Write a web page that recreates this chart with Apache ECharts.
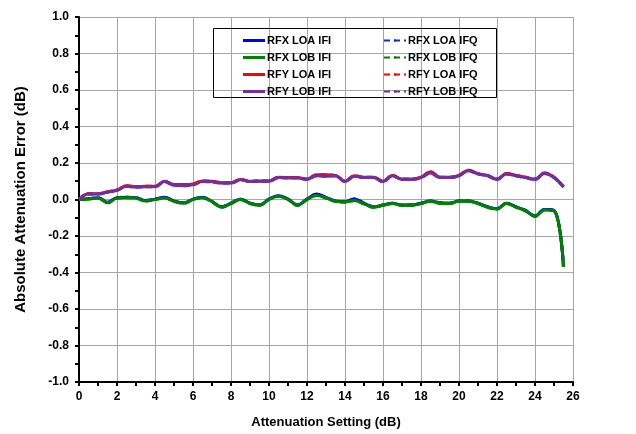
<!DOCTYPE html>
<html><head><meta charset="utf-8">
<script src="https://cdn.jsdelivr.net/npm/echarts@6/dist/echarts.min.js"></script>
<style>html,body{margin:0;padding:0;background:#fff}#c{width:636px;height:434px}</style>
</head><body><div id="c"></div>
<script>
var atten = [0,0.5,1,1.5,2,2.5,3,3.5,4,4.5,5,5.5,6,6.5,7,7.5,8,8.5,9,9.5,10,10.5,11,11.5,12,12.5,13,13.5,14,14.5,15,15.5,16,16.5,17,17.5,18,18.5,19,19.5,20,20.5,21,21.5,22,22.5,23,23.5,24,24.5,25,25.5];
var rfxLoaIfi = [0,0.005,0.01,-0.015,0.01,0.012,0.01,-0.005,0.002,0.012,-0.008,-0.018,0.002,0.012,-0.01,-0.04,-0.02,0.002,-0.02,-0.03,0.002,0.02,0.002,-0.03,0.002,0.03,0.012,-0.008,-0.012,0.002,-0.02,-0.04,-0.03,-0.02,-0.03,-0.03,-0.02,-0.008,-0.018,-0.02,-0.008,-0.008,-0.02,-0.04,-0.05,-0.02,-0.04,-0.06,-0.09,-0.055,-0.06,-0.37];
var rfxLoaIfq = [0,0.004,0.01,-0.016,0.01,0.012,0.01,-0.006,0.002,0.01,-0.008,-0.02,0.002,0.01,-0.012,-0.04,-0.02,0.002,-0.02,-0.03,0.002,0.018,0.002,-0.03,0.002,0.028,0.01,-0.008,-0.012,0.004,-0.02,-0.04,-0.03,-0.02,-0.03,-0.03,-0.02,-0.008,-0.018,-0.02,-0.008,-0.008,-0.02,-0.04,-0.05,-0.02,-0.04,-0.06,-0.09,-0.055,-0.06,-0.37];
var rfxLobIfi = [0,0.002,0.008,-0.018,0.008,0.01,0.008,-0.008,0,0.008,-0.01,-0.02,0,0.01,-0.012,-0.042,-0.022,0,-0.022,-0.032,0,0.018,0,-0.032,0,0.022,0.008,-0.01,-0.014,-0.006,-0.024,-0.042,-0.032,-0.022,-0.032,-0.032,-0.022,-0.01,-0.02,-0.022,-0.01,-0.01,-0.022,-0.042,-0.052,-0.022,-0.042,-0.062,-0.092,-0.058,-0.062,-0.37];
var rfxLobIfq = [0,0.002,0.008,-0.018,0.008,0.01,0.008,-0.008,0,0.008,-0.01,-0.02,0,0.01,-0.012,-0.042,-0.022,0,-0.022,-0.032,0,0.018,0,-0.032,0,0.022,0.008,-0.01,-0.014,-0.006,-0.024,-0.042,-0.032,-0.022,-0.032,-0.032,-0.022,-0.01,-0.02,-0.022,-0.01,-0.01,-0.022,-0.042,-0.052,-0.022,-0.042,-0.062,-0.092,-0.058,-0.062,-0.37];
var rfyLoaIfi = [0,0.032,0.032,0.042,0.052,0.075,0.07,0.072,0.072,0.1,0.082,0.082,0.085,0.102,0.1,0.092,0.092,0.11,0.1,0.102,0.102,0.122,0.12,0.12,0.112,0.135,0.135,0.132,0.1,0.13,0.122,0.122,0.1,0.132,0.112,0.112,0.122,0.152,0.122,0.122,0.132,0.16,0.142,0.132,0.112,0.142,0.132,0.122,0.112,0.145,0.122,0.07];
var rfyLoaIfq = [0,0.032,0.032,0.042,0.052,0.075,0.07,0.072,0.072,0.1,0.082,0.082,0.085,0.102,0.1,0.092,0.092,0.11,0.1,0.102,0.102,0.122,0.12,0.12,0.112,0.135,0.135,0.132,0.1,0.13,0.122,0.122,0.1,0.132,0.112,0.112,0.122,0.152,0.122,0.122,0.132,0.16,0.142,0.132,0.112,0.142,0.132,0.122,0.112,0.145,0.122,0.07];
var rfyLobIfi = [0,0.03,0.03,0.04,0.05,0.072,0.068,0.07,0.07,0.098,0.078,0.076,0.08,0.098,0.097,0.09,0.09,0.108,0.098,0.1,0.1,0.12,0.118,0.118,0.11,0.13,0.128,0.13,0.098,0.128,0.12,0.12,0.098,0.13,0.11,0.11,0.12,0.145,0.12,0.12,0.13,0.158,0.14,0.13,0.11,0.14,0.13,0.12,0.11,0.142,0.12,0.068];
var rfyLobIfq = [0,0.03,0.03,0.04,0.05,0.072,0.068,0.07,0.07,0.098,0.078,0.076,0.08,0.098,0.097,0.09,0.09,0.108,0.098,0.1,0.1,0.12,0.118,0.118,0.11,0.13,0.128,0.13,0.098,0.128,0.12,0.12,0.098,0.13,0.11,0.11,0.12,0.145,0.12,0.12,0.13,0.158,0.14,0.13,0.11,0.14,0.13,0.12,0.11,0.142,0.12,0.068];
var yTicks = ['-1.0','-0.8','-0.6','-0.4','-0.2','0.0','0.2','0.4','0.6','0.8','1.0'];

var names = ['RFX LOA IFI','RFX LOA IFQ','RFX LOB IFI','RFX LOB IFQ','RFY LOA IFI','RFY LOA IFQ','RFY LOB IFI','RFY LOB IFQ'];
var datas = [rfxLoaIfi,rfxLoaIfq,rfxLobIfi,rfxLobIfq,rfyLoaIfi,rfyLoaIfq,rfyLobIfi,rfyLobIfq];
var colors = ['#0000ff','#0033cc','#008000','#008000','#ff0000','#ff0000','#7030a0','#7030a0'];
var order = [1,0,3,2,5,4,7,6];

var series = order.map(function(i){
  return {
    name: names[i], type:'line', smooth:0.4, symbol:'none',
    data: atten.map(function(x,k){return [x, datas[i][k]];}),
    lineStyle:{color:colors[i], width:3, type: (i%2===1)?[6,4]:'solid'},
    itemStyle:{color:colors[i]}
  };
});

var font = 'Liberation Sans, Arial, sans-serif';
var legText = {fontFamily:font, fontWeight:'bold', fontSize:11, color:'#000', padding:[0,0,0,-3]};
var chart = echarts.init(document.getElementById('c'), null, {renderer:'canvas'});
chart.setOption({
  animation:false,
  backgroundColor:'#fff',
  grid:{left:79, right:63, top:17, bottom:52},
  legend:[
    {data:['RFX LOA IFI','RFX LOB IFI','RFY LOA IFI','RFY LOB IFI'], orient:'vertical', left:238, top:30, itemWidth:22, itemHeight:3, itemGap:6, textStyle:legText, icon:'rect'},
    {data:['RFX LOA IFQ','RFX LOB IFQ','RFY LOA IFQ','RFY LOB IFQ'], orient:'vertical', left:378, top:30, itemWidth:22, itemHeight:3, itemGap:6, textStyle:legText}
  ],
  graphic:[{type:'rect', left:213, top:28, shape:{width:283, height:69}, style:{fill:'rgba(0,0,0,0)', stroke:'#000', lineWidth:1}, z:100}],
  xAxis:{type:'value', min:0, max:26, interval:2,
    name:'Attenuation Setting (dB)', nameLocation:'middle', nameGap:34,
    nameTextStyle:{fontFamily:font, fontWeight:'bold', fontSize:13, color:'#000'},
    axisLine:{onZero:false, lineStyle:{color:'#000', width:2}},
    axisTick:{show:true, length:4, lineStyle:{color:'#000', width:2}},
    minorTick:{show:true, splitNumber:2, length:4, lineStyle:{color:'#000', width:2}},
    axisLabel:{fontFamily:font, fontWeight:'bold', fontSize:12, color:'#000', margin:9},
    splitLine:{show:true, lineStyle:{color:'#a6a6a6', width:1}}
  },
  yAxis:{type:'value', min:-1, max:1, interval:0.2,
    name:'Absolute Attenuation Error (dB)', nameLocation:'middle', nameGap:51,
    nameTextStyle:{fontFamily:font, fontWeight:'bold', fontSize:15, color:'#000'},
    axisLine:{lineStyle:{color:'#000', width:2}},
    axisTick:{show:true, length:4, lineStyle:{color:'#000', width:2}},
    minorTick:{show:true, splitNumber:2, length:4, lineStyle:{color:'#000', width:2}},
    axisLabel:{fontFamily:font, fontWeight:'bold', fontSize:12, color:'#000', margin:10,
      formatter:function(v){var i=Math.round((v+1)/0.2);return yTicks[i];}},
    splitLine:{show:true, lineStyle:{color:'#a6a6a6', width:1}}
  },
  series:series
});
</script></body></html>
